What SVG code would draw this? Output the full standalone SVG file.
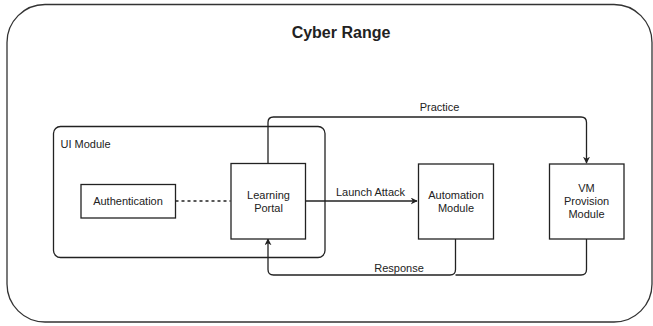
<svg xmlns="http://www.w3.org/2000/svg" width="653" height="326" viewBox="0 0 653 326">
<defs>
<style>
.box{fill:#fff;stroke:#222;stroke-width:1.3}
.frame{fill:#fff;stroke:#333;stroke-width:1.3}
.t{font-family:"Liberation Sans",Arial,sans-serif;font-size:11px;fill:#222}
.c{text-anchor:middle}
.edge{fill:none;stroke:#222;stroke-width:1.3}
</style>
<marker id="ah" viewBox="0 0 10 10" refX="9" refY="5" markerWidth="7" markerHeight="7" orient="auto" markerUnits="userSpaceOnUse">
<path d="M0,0 L10,5 L0,10 L3,5 Z" fill="#222"/>
</marker>
</defs>
<rect width="653" height="326" fill="#fff"/>
<g id="cyber-range">
<rect class="frame" x="7" y="4.5" width="645" height="317.5" rx="38" ry="38"/>
<text x="341" y="38" text-anchor="middle" style="font-family:'Liberation Sans',Arial,sans-serif;font-size:16px;font-weight:bold;fill:#222">Cyber Range</text>
</g>
<g id="ui-module">
<rect class="box" x="53.5" y="126.5" width="271.5" height="131" rx="7" ry="7"/>
<text class="t" x="60.5" y="148">UI Module</text>
</g>
<g id="connectors">
<line class="edge" x1="175.5" y1="201" x2="230.5" y2="201" stroke-dasharray="3,3"/>
<path class="edge" d="M305.5,201 H417" marker-end="url(#ah)"/>
<path class="edge" d="M268,163 V122.5 Q268,117 273.5,117 H581 Q586.5,117 586.5,122.5 V163" marker-end="url(#ah)"/>
<path class="edge" d="M455.5,239 V269.5 Q455.5,275 450,275 H273.5 Q268,275 268,269.5 V239" marker-end="url(#ah)"/>
<path class="edge" d="M586.5,239 V269.5 Q586.5,275 581,275 H455.5"/>
<text class="t c" x="370.5" y="196">Launch Attack</text>
<text class="t c" x="439.5" y="111">Practice</text>
<text class="t c" x="399" y="271.5">Response</text>
</g>
<g id="authentication">
<rect class="box" x="81" y="184.5" width="94.5" height="33.5"/>
<text class="t c" x="128" y="205">Authentication</text>
</g>
<g id="learning-portal">
<rect class="box" x="231" y="163.5" width="74.5" height="75.5"/>
<text class="t c" x="268.5" y="199">Learning</text>
<text class="t c" x="268.5" y="212">Portal</text>
</g>
<g id="automation-module">
<rect class="box" x="418.5" y="164" width="75" height="75"/>
<text class="t c" x="456" y="199">Automation</text>
<text class="t c" x="456" y="212">Module</text>
</g>
<g id="vm-provision-module">
<rect class="box" x="549.5" y="164" width="74.5" height="75"/>
<text class="t c" x="586.5" y="192">VM</text>
<text class="t c" x="586.5" y="205">Provision</text>
<text class="t c" x="586.5" y="218">Module</text>
</g>
</svg>
